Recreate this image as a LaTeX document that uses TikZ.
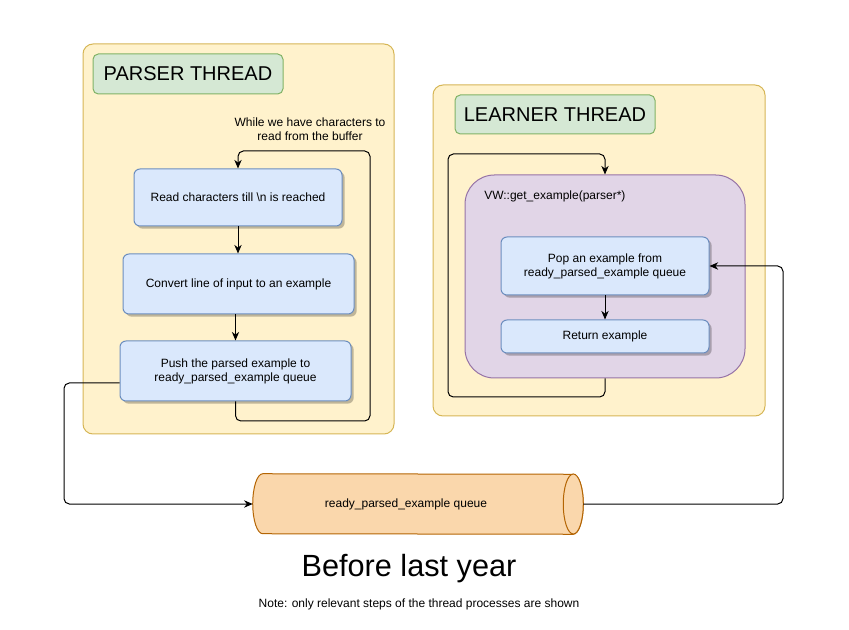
\documentclass[tikz,border=0pt]{standalone}
\usepackage{fontspec}
\setmainfont{Liberation Sans}
\usetikzlibrary{arrows.meta,shadows,backgrounds}
\definecolor{contfill}{HTML}{FFF2CC}
\definecolor{contdraw}{HTML}{D6B656}
\definecolor{grnfill}{HTML}{D5E8D4}
\definecolor{grndraw}{HTML}{82B366}
\definecolor{bluefill}{HTML}{DAE8FC}
\definecolor{bluedraw}{HTML}{6C8EBF}
\definecolor{purfill}{HTML}{E1D5E7}
\definecolor{purdraw}{HTML}{9673A6}
\definecolor{orfill}{HTML}{FAD7AC}
\definecolor{ordraw}{HTML}{B46504}
\begin{document}
\begin{tikzpicture}[x=0.75pt,y=-0.75pt,
  container/.style={draw=contdraw, fill=contfill, rounded corners=7.5pt, line width=0.75pt, inner sep=0pt},
  threadlabel/.style={draw=grndraw, fill=grnfill, rounded corners=4pt, line width=0.75pt, inner sep=0pt,
    font=\fontsize{15}{18}\selectfont},
  stepbox/.style={draw=bluedraw, fill=bluefill, rounded corners=4.5pt, line width=0.75pt, inner sep=0pt,
    align=center, font=\fontsize{9}{10.5}\selectfont,
    drop shadow={shadow xshift=2pt, shadow yshift=-2pt, opacity=0.25, fill=black}},
  funcbox/.style={draw=purdraw, fill=purfill, rounded corners=22pt, line width=0.75pt, inner sep=0pt},
  plain/.style={inner sep=0pt, align=center, font=\fontsize{9}{10.5}\selectfont},
  cylbody/.style={draw=ordraw, fill=orfill, line width=0.75pt},
  conn/.style={draw=black, line width=0.75pt, rounded corners=4pt, -{Stealth[length=6.5pt,width=5.5pt]}}
]
\useasboundingbox (0,0) rectangle (849,630);

% Parser thread
\node[container, minimum width=233.25pt, minimum height=292.5pt] (parser) at (238.5,239) {};
\node[threadlabel, minimum width=142.5pt, minimum height=30pt] (plabel) at (188,74) {PARSER THREAD};
\node[plain] (looptext) at (310,129) {While we have characters to\\read from the buffer};
\node[stepbox, minimum width=156pt, minimum height=42.75pt] (box1) at (238,197.5) {Read characters till \textbackslash n is reached};
\node[stepbox, minimum width=173.25pt, minimum height=45pt] (box2) at (238.5,284) {Convert line of input to an example};
\node[stepbox, minimum width=173.25pt, minimum height=45pt] (box3) at (235.5,371) {Push the parsed example to\\ready\_parsed\_example queue};

% Learner thread
\node[container, minimum width=249pt, minimum height=248.25pt] (learner) at (599,250.5) {};
\node[threadlabel, minimum width=150pt, minimum height=29.25pt] (llabel) at (555,114.5) {LEARNER THREAD};
\node[funcbox, minimum width=210pt, minimum height=152.25pt] (vw) at (605,276.5) {};
\node[plain, anchor=west] (vwlabel) at (484,196) {VW::get\_example(parser*)};
\node[stepbox, minimum width=156pt, minimum height=43.5pt] (pop) at (605,266) {Pop an example from\\ready\_parsed\_example queue};
\node[stepbox, minimum width=156pt, minimum height=24.75pt] (ret) at (605,336.5) {Return example};

% Queue (horizontal cylinder)
\node[inner sep=0pt, minimum width=247.5pt, minimum height=45pt, font=\fontsize{9}{10.5}\selectfont] (queue) at (418,504) {\hspace*{-18pt}ready\_parsed\_example queue};
\begin{pgfonlayer}{background}
\draw[cylbody] ([xshift=7.5pt]queue.north west) arc[start angle=90, end angle=270, x radius=7.5pt, y radius=22.5pt]
  -- ([xshift=-7.5pt]queue.south east) arc[start angle=-90, end angle=90, x radius=7.5pt, y radius=22.5pt] -- cycle;
\draw[cylbody] ([xshift=-7.5pt]queue.east) ellipse[x radius=7.5pt, y radius=22.5pt];
\end{pgfonlayer}

% Title and note
\node[inner sep=0pt, font=\fontsize{23}{27}\selectfont] (title) at (409,569) {Before last year};
\node[inner sep=0pt, font=\fontsize{9}{10.5}\selectfont] (note) at (419,604) {Note: only relevant steps of the thread processes are shown};

% Parser connectors
\draw[conn] (box1.south) -- (box2.north -| box1.south);
\draw[conn] (box2.south -| box3.north) -- (box3.north);
\coordinate (pl1) at (370,421);
\coordinate (pl2) at (370,151);
\draw[conn] (box3.south) |- (pl1) -- (pl2) -| (box1.north);

% Learner connectors
\draw[conn] (pop) -- (ret);
\coordinate (ll1) at (448,397);
\coordinate (ll2) at (448,154);
\draw[conn] (vw.south) |- (ll1) -- (ll2) -| (vw.north);

% Queue connectors
\coordinate (lcor) at (64,383);
\draw[conn] ([yshift=-9pt]box3.west) -- (lcor) |- (queue.west);
\coordinate (rcor) at (783,504);
\draw[conn] (queue.east) -- (rcor) |- (pop.east);
\end{tikzpicture}
\end{document}
